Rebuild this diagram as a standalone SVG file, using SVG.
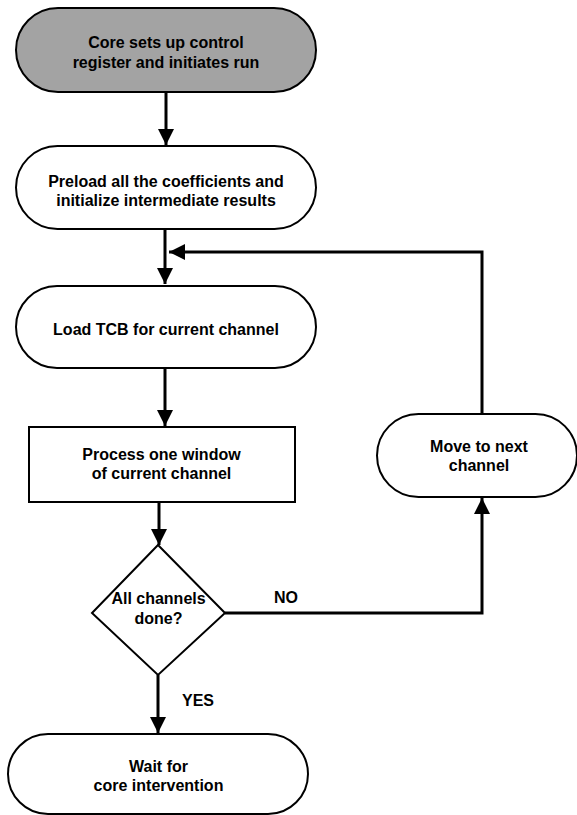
<svg xmlns="http://www.w3.org/2000/svg" width="577" height="815" viewBox="0 0 577 815">
<defs>
<style>
.n{fill:#fff;stroke:#000;stroke-width:2}
.g{fill:#a3a3a3}
.t{font-family:"Liberation Sans",Arial,Helvetica,sans-serif;font-weight:bold;font-size:16px;text-anchor:middle;fill:#000}
.c{fill:none;stroke:#000;stroke-width:3}
</style>
<marker id="ah" viewBox="0 0 10 10" refX="10" refY="5" markerWidth="16" markerHeight="16" markerUnits="userSpaceOnUse" orient="auto">
<path d="M0,0 L10,5 L0,10 Z" fill="#000"/>
</marker>
</defs>
<g id="connectors">
<line class="c" x1="166" y1="92" x2="166" y2="145" marker-end="url(#ah)"/>
<line class="c" x1="165" y1="229" x2="165" y2="284" marker-end="url(#ah)"/>
<polyline class="c" points="482,414 482,252 169,252" marker-end="url(#ah)"/>
<line class="c" x1="165" y1="368" x2="165" y2="426" marker-end="url(#ah)"/>
<line class="c" x1="159" y1="502" x2="159" y2="545" marker-end="url(#ah)"/>
<polyline class="c" points="225,613 482,613 482,498" marker-end="url(#ah)"/>
<line class="c" x1="158" y1="675" x2="158" y2="733" marker-end="url(#ah)"/>
<text class="t" x="286" y="603">NO</text>
<text class="t" x="198" y="706">YES</text>
</g>
<g id="n1">
<rect class="n g" x="16" y="8" width="300" height="84" rx="42"/>
<text class="t" x="166" y="47.5">Core sets up control</text>
<text class="t" x="166" y="67.5">register and initiates run</text>
</g>
<g id="n2">
<rect class="n" x="16" y="146" width="300" height="83" rx="41.5"/>
<text class="t" x="166" y="187">Preload all the coefficients and</text>
<text class="t" x="166" y="206">initialize intermediate results</text>
</g>
<g id="n3">
<rect class="n" x="16" y="286" width="300" height="82" rx="41"/>
<text class="t" x="166" y="335">Load TCB for current channel</text>
</g>
<g id="n4">
<rect class="n" x="29" y="427" width="266" height="75"/>
<text class="t" x="161.5" y="460">Process one window</text>
<text class="t" x="161.5" y="479">of current channel</text>
</g>
<g id="n5">
<polygon class="n" points="158,545 225,613 158,675 92,613"/>
<text class="t" x="158.5" y="604">All channels</text>
<text class="t" x="158.5" y="624">done?</text>
</g>
<g id="n6">
<rect class="n" x="377" y="414" width="200" height="83" rx="41.5"/>
<text class="t" x="479" y="452">Move to next</text>
<text class="t" x="479" y="471">channel</text>
</g>
<g id="n7">
<rect class="n" x="8" y="734" width="300" height="80" rx="40"/>
<text class="t" x="158.5" y="772">Wait for</text>
<text class="t" x="158.5" y="791">core intervention</text>
</g>
</svg>
